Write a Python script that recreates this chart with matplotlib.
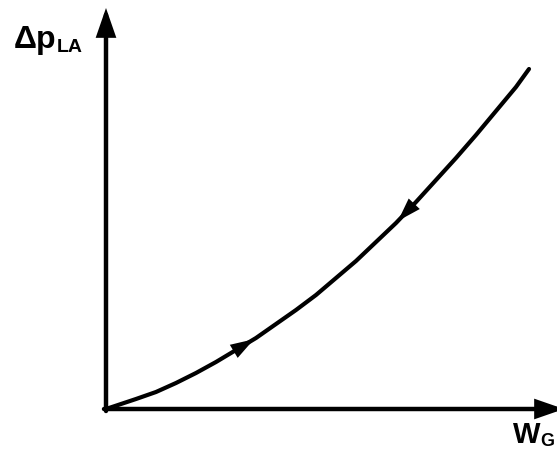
import numpy as np
import matplotlib
matplotlib.use("Agg")
import matplotlib.pyplot as plt

# Characteristic curve: pressure drop vs. gas flow (schematic units)
w_g = [0, 15, 30, 50, 70, 90, 110, 130, 150, 170, 190, 210, 230, 250,
       270, 290, 310, 330, 350, 370, 390, 410, 423]
dp_la = [0, 5, 10, 17, 26, 36, 47, 59, 71, 85, 99, 114, 131, 148,
         167, 186, 207, 229, 251, 274, 298, 322, 340]

# Flow direction markers along the curve: (tip position on W axis, direction)
arrow_tips = [148, 292]
arrow_dirs = [1, -1]

x_label_main, x_label_sub = "W", "G"
y_label_main, y_label_sub = "Δp", "LA"

plt.rcParams["font.family"] = ["Liberation Sans", "DejaVu Sans"]

fig = plt.figure(figsize=(5.57, 4.52), dpi=100)
ax = fig.add_axes([0, 0, 1, 1])
ax.set_xlim(-106, 451)
ax.set_ylim(-42, 410)
ax.axis("off")

axis_style = dict(arrowstyle="-|>,head_length=0.75,head_width=0.26",
                  mutation_scale=20, lw=3.2, color="black",
                  shrinkA=0, shrinkB=0, joinstyle="miter")
# axes with arrowheads
ax.annotate("", xy=(0, 401), xytext=(0, -2), arrowprops=axis_style,
            annotation_clip=False)
ax.annotate("", xy=(458, 0), xytext=(-2, 0), arrowprops=axis_style,
            annotation_clip=False)

# curve
ax.plot(w_g, dp_la, color="black", lw=3.0, solid_capstyle="round",
        solid_joinstyle="round")

# arrowheads along the curve
for tip_x, d in zip(arrow_tips, arrow_dirs):
    tip_y = np.interp(tip_x, w_g, dp_la)
    bx = tip_x - d * 20
    by = np.interp(bx, w_g, dp_la)
    ax.annotate("", xy=(tip_x, tip_y), xytext=(bx, by),
                arrowprops=dict(arrowstyle="-|>,head_length=1.7,head_width=0.55",
                                mutation_scale=10, lw=0, color="black",
                                shrinkA=0, shrinkB=0))

# axis labels
ax.text(-92, 362, y_label_main, fontsize=23, fontweight="bold",
        ha="left", va="baseline")
ax.text(-49, 358, y_label_sub, fontsize=14, fontweight="bold",
        ha="left", va="baseline")
ax.text(407, -33, x_label_main, fontsize=21, fontweight="bold",
        ha="left", va="baseline")
ax.text(434, -36, x_label_sub, fontsize=13, fontweight="bold",
        ha="left", va="baseline")

fig.savefig("out.png", dpi=100)
